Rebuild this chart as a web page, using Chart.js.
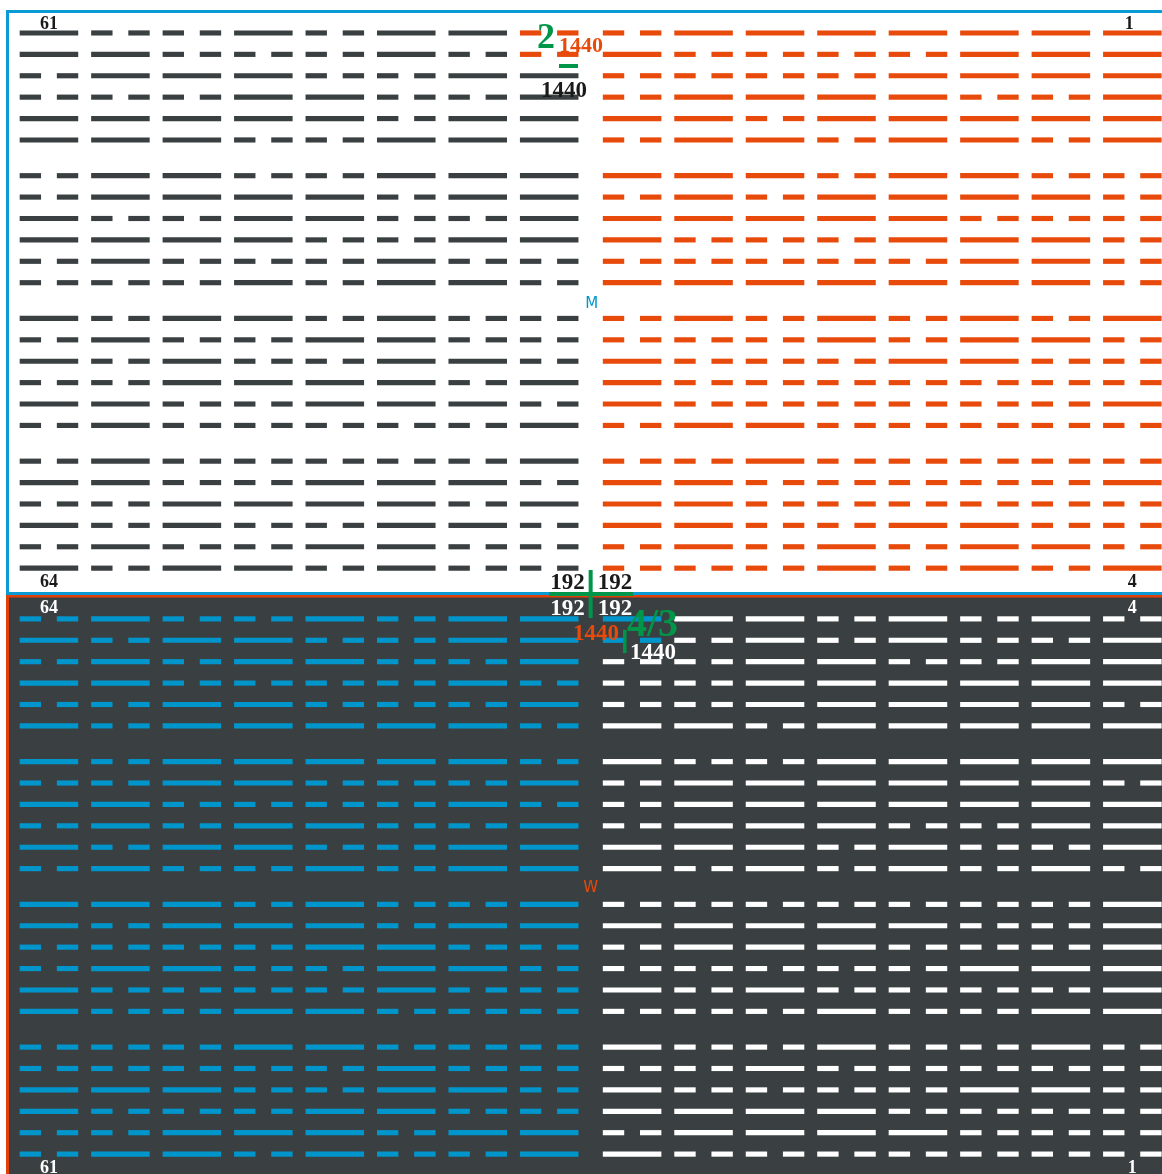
<!DOCTYPE html>
<html>
<head>
<meta charset="utf-8">
<script src="https://cdn.jsdelivr.net/npm/chart.js@4.4.1/dist/chart.umd.min.js"></script>
<style>
  html, body { margin: 0; padding: 0; background: #ffffff; overflow: hidden; }
  #wrap { position: relative; width: 1162px; height: 1174px; }
</style>
</head>
<body>
<div id="wrap"><canvas id="hexChart"></canvas></div>
<script>
// 1 = solid line, 0 = broken line; one string per row, 8 hexagram columns per row
const topLeft = [
  '10010110', '11000100', '01110011', '00011001', '11111011', '11100111',
  '01100111', '01111011', '10011001', '11110011', '01000100', '00010110',
  '10110100', '01001100', '10100110', '00111101', '11001110', '01000001',
  '01000001', '11001110', '00111101', '10100110', '01001100', '10110100'
];
const topRight = [
  '01111111', '10000111', '00001111', '01111001', '11011111', '01101101',
  '11101100', '01011110', '11111000', '10001110', '00000110', '11111110',
  '01010101', '00010110', '10001100', '10000000', '10000001', '01100000',
  '00100000', '11000001', '11000000', '11001100', '01010110', '00010101'
];
const bottomLeft = [
  '01001011', '10110011', '01011001', '11000010', '00110001', '10111110',
  '10111110', '00110001', '11000010', '01011001', '10110011', '01001011',
  '11101001', '10111011', '00001100', '01100110', '10000100', '10011000',
  '00011000', '00000100', '11100110', '10001100', '00111011', '01101001'
];
const bottomRight = [
  '11101010', '00101001', '00110011', '00111111', '00111110', '11011111',
  '10011111', '01111110', '01111111', '01110011', '11101001', '10101010',
  '00000001', '11111001', '01110001', '00000111', '10100001', '00010011',
  '10010010', '00100000', '10000110', '11110000', '01111000', '10000000'
];
// cells [row, col] drawn in the colour of the neighbouring quadrant
const orangeCells = [[0, 7], [1, 7]];   // in topLeft
const blueCells = [[0, 0], [1, 0]];     // in bottomRight

// corner numbers
const topNumbers = ['61', '1', '64', '4'];
const bottomNumbers = ['64', '4', '61', '1'];

const GRAY = '#3a4042';
const ORANGE = '#e84a0c';
const BLUE = '#0096cc';
const GREEN = '#00964a';
const WHITE = '#ffffff';

const LINE = 0.81, DASH = 0.29;
function colPos(c) { return c + (c >= 8 ? 0.16 : 0); }
function rowPos(r, half) { return half * 27.38 + Math.floor(r / 6) * 6.67 + (r % 6); }

function segments(rows, half, colOffset) {
  const out = [];
  rows.forEach((bits, r) => {
    [...bits].forEach((b, c) => {
      const x0 = colPos(c + colOffset);
      const y = rowPos(r, half);
      if (b === '1') {
        out.push({ x: [x0, x0 + LINE], y: y, r: r, c: c });
      } else {
        out.push({ x: [x0, x0 + DASH], y: y, r: r, c: c });
        out.push({ x: [x0 + LINE - DASH, x0 + LINE], y: y, r: r, c: c });
      }
    });
  });
  return out;
}
const inList = (list, p) => list.some(q => q[0] === p.r && q[1] === p.c);

// frame + backgrounds
const framePlugin = {
  id: 'frame',
  beforeDraw(chart) {
    const ctx = chart.ctx;
    const W = chart.width;
    ctx.save();
    ctx.fillStyle = '#ffffff';
    ctx.fillRect(0, 0, W, chart.height);
    ctx.fillStyle = GRAY;
    ctx.fillRect(8, 596, W - 8, chart.height - 596);
    ctx.fillStyle = '#0a9bd4';
    ctx.fillRect(6, 10, W - 6, 3);
    ctx.fillRect(6, 10, 3, 585);
    ctx.fillRect(6, 592, W - 6, 3);
    ctx.fillStyle = '#e0410a';
    ctx.fillRect(6, 595, W - 6, 2.5);
    ctx.fillRect(6, 595, 3, chart.height - 595);
    ctx.restore();
  }
};

// numbers, fractions and marks
const labelPlugin = {
  id: 'labels',
  afterDraw(chart) {
    const ctx = chart.ctx;
    const xs = chart.scales.x, ys = chart.scales.y;
    const cx = c => xs.getPixelForValue(colPos(c) + LINE / 2);
    const ry = (r, h) => ys.getPixelForValue(rowPos(r, h));
    const mid = (xs.getPixelForValue(colPos(7) + LINE) + xs.getPixelForValue(colPos(8))) / 2;
    const text = (t, x, y, font, color, align) => {
      ctx.font = font; ctx.fillStyle = color; ctx.textAlign = align || 'center';
      ctx.textBaseline = 'alphabetic'; ctx.fillText(t, x, y);
    };
    const serif = s => 'bold ' + s + 'px "Liberation Serif", "DejaVu Serif", serif';
    ctx.save();
    // corner numbers
    text(topNumbers[0], cx(0), ry(0, 0) - 4, serif(18), '#1a1a1a');
    text(topNumbers[1], cx(15) - 3, ry(0, 0) - 4, serif(18), '#1a1a1a');
    text(topNumbers[2], cx(0), ry(23, 0) + 19, serif(18), '#1a1a1a');
    text(topNumbers[3], cx(15), ry(23, 0) + 19, serif(18), '#1a1a1a');
    text(bottomNumbers[0], cx(0), ry(0, 1) - 6, serif(18), WHITE);
    text(bottomNumbers[1], cx(15), ry(0, 1) - 6, serif(18), WHITE);
    text(bottomNumbers[2], cx(0), ry(23, 1) + 19, serif(18), WHITE);
    text(bottomNumbers[3], cx(15), ry(23, 1) + 19, serif(18), WHITE);
    // centre cross and 192s
    text('192', mid - 6, 589, serif(23), '#1a1a1a', 'right');
    text('192', mid + 7, 589, serif(23), '#1a1a1a', 'left');
    text('192', mid - 6, 615, serif(23), WHITE, 'right');
    text('192', mid + 7, 615, serif(23), WHITE, 'left');
    ctx.fillStyle = GREEN;
    ctx.fillRect(mid - 2, 570, 4, 48);
    ctx.fillRect(549, 592, 84, 4);
    // top fraction
    text('2', 546, 48, serif(36), GREEN);
    text('1440', 559, 52, serif(22), ORANGE, 'left');
    ctx.fillStyle = GREEN;
    ctx.fillRect(559, 64, 19, 4);
    text('1440', 541, 97, serif(23), '#1a1a1a', 'left');
    // bottom fraction
    text('1440', 573, 640, serif(23), ORANGE, 'left');
    ctx.fillStyle = GREEN;
    ctx.fillRect(623, 630, 3.5, 23);
    text('4/3', 627, 636, serif(40), GREEN, 'left');
    text('1440', 630, 659, serif(23), WHITE, 'left');
    // M / W
    text('M', mid + 1, 308, '15px "DejaVu Sans", sans-serif', BLUE);
    text('W', mid, 892, '15px "DejaVu Sans", sans-serif', ORANGE);
    ctx.restore();
  }
};

const ds = (data, color, special, specialColor) => ({
  data: data,
  backgroundColor: ctx => (special && ctx.raw && inList(special, ctx.raw)) ? specialColor : color,
  borderWidth: 0,
  barThickness: 4.5,
  grouped: false
});

const cfg = {
  type: 'bar',
  data: {
    datasets: [
      ds(segments(topLeft, 0, 0), GRAY, orangeCells, ORANGE),
      ds(segments(topRight, 0, 8), ORANGE),
      ds(segments(bottomLeft, 1, 0), BLUE),
      ds(segments(bottomRight, 1, 8), WHITE, blueCells, BLUE)
    ]
  },
  options: {
    indexAxis: 'y',
    responsive: true,
    maintainAspectRatio: false,
    animation: false,
    devicePixelRatio: 1,
    layout: { padding: 0 },
    plugins: { legend: { display: false }, tooltip: { enabled: false } },
    scales: {
      x: { type: 'linear', min: -0.28, max: 15.98, offset: false, display: false },
      y: { type: 'linear', min: -1.54, max: 53.32, reverse: true, offset: false, display: false }
    }
  },
  plugins: [framePlugin, labelPlugin]
};

const hexChart = new Chart(document.getElementById('hexChart').getContext('2d'), cfg);
</script>
</body>
</html>
